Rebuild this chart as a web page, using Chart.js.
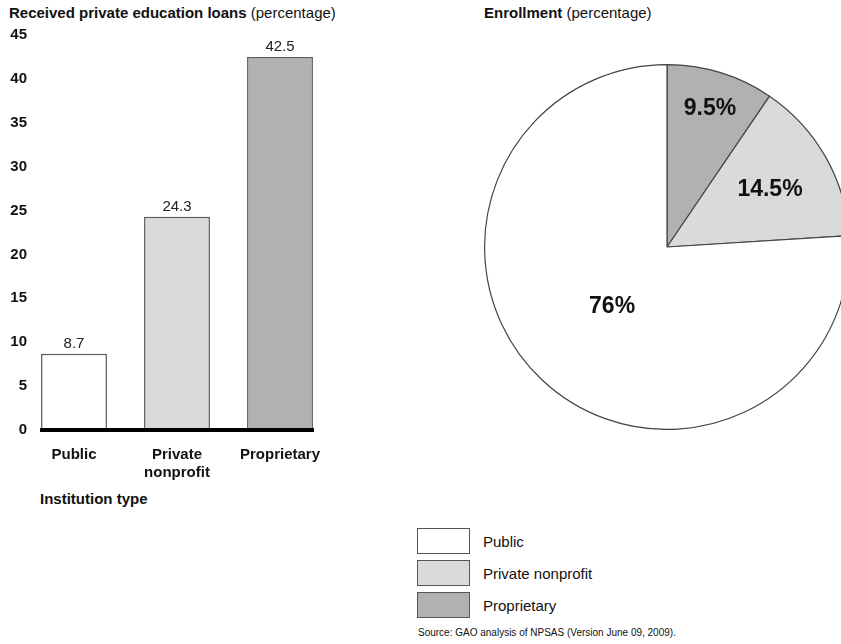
<!DOCTYPE html>
<html>
<head>
<meta charset="utf-8">
<script src="https://cdn.jsdelivr.net/npm/chart.js@4/dist/chart.umd.min.js"></script>
<style>
  html, body { margin: 0; padding: 0; background: #fff; }
  #page {
    position: relative; width: 841px; height: 644px; overflow: hidden;
    font-family: "Liberation Sans", Arial, Helvetica, sans-serif; color: #111;
  }
  .abs { position: absolute; white-space: nowrap; }
  .title { font-size: 15px; line-height: 18px; }
  .title b { font-weight: bold; }
  #barCanvas { position: absolute; left: 0; top: 0; }
  #pieCanvas { position: absolute; left: 484px; top: 64px; }
  #axisTitle { left: 40px; top: 490px; font-size: 15px; font-weight: bold; }
  .legRow { position: absolute; left: 417px; height: 27px; }
  .legBox { position: absolute; left: 0; top: 0; width: 51px; height: 24px; border: 1.5px solid #555; }
  .legText { position: absolute; left: 66px; top: 5px; font-size: 15px; line-height: 18px; white-space: nowrap; }
  #source { left: 418px; top: 627px; font-size: 10px; }
</style>
</head>
<body>
<div id="page">
  <div class="abs title" style="left:9px; top:4px;"><b>Received private education loans</b> (percentage)</div>
  <div class="abs title" style="left:484px; top:4px;"><b>Enrollment</b> (percentage)</div>
  <canvas id="barCanvas" width="340" height="482"></canvas>
  <div id="axisTitle" class="abs">Institution type</div>
  <canvas id="pieCanvas" width="366" height="366"></canvas>
  <div id="legend"></div>
  <div id="source" class="abs">Source: GAO analysis of NPSAS (Version June 09, 2009).</div>
</div>
<script>
// Institution types and their shares
const categories = ['Public', 'Private nonprofit', 'Proprietary'];
const axisLabels = [['Public'], ['Private', 'nonprofit'], ['Proprietary']];
const loanShare = [8.7, 24.3, 42.5];        // received private education loans, %
const enrollmentShare = [76, 14.5, 9.5];    // enrollment, %
const yTicks = [0, 5, 10, 15, 20, 25, 30, 35, 40, 45];

const fills = ['#ffffff', '#dadada', '#b1b1b1'];
const FONT = '"Liberation Sans", Arial, Helvetica, sans-serif';

// Value labels above each bar plus the heavy baseline under the bars
const barDecor = {
  id: 'barDecor',
  afterDatasetsDraw(chart) {
    const ctx = chart.ctx;
    const meta = chart.getDatasetMeta(0);
    const y0 = chart.scales.y.getPixelForValue(0);
    ctx.save();
    ctx.font = '15px ' + FONT;
    ctx.fillStyle = '#222';
    ctx.textAlign = 'center';
    ctx.textBaseline = 'middle';
    meta.data.forEach((bar, i) => {
      ctx.fillText(loanShare[i].toFixed(1), bar.x, bar.y - 10);
    });
    const first = meta.data[0], last = meta.data[meta.data.length - 1];
    ctx.strokeStyle = '#000';
    ctx.lineWidth = 4;
    ctx.beginPath();
    ctx.moveTo(first.x - first.width / 2 - 1, y0);
    ctx.lineTo(last.x + last.width / 2 + 1, y0);
    ctx.stroke();
    ctx.restore();
  }
};

new Chart(document.getElementById('barCanvas'), {
  type: 'bar',
  data: {
    labels: axisLabels,
    datasets: [{
      data: loanShare,
      backgroundColor: fills,
      borderColor: '#5a5a5a',
      borderWidth: 1.5,
      borderSkipped: 'start',
      categoryPercentage: 1,
      barPercentage: 0.64
    }]
  },
  options: {
    responsive: false,
    animation: false,
    devicePixelRatio: 1,
    layout: { padding: { left: 8, right: 8.5, top: 35, bottom: 0 } },
    plugins: { legend: { display: false }, tooltip: { enabled: false } },
    scales: {
      x: {
        grid: { display: false, drawTicks: false },
        border: { display: false },
        ticks: {
          padding: 16,
          color: '#111',
          font: { family: FONT, size: 15, weight: 'bold' },
          maxRotation: 0, autoSkip: false
        },
        afterFit(scale) { scale.height = 52; }
      },
      y: {
        min: 0, max: 45,
        afterBuildTicks(scale) { scale.ticks = yTicks.map(v => ({ value: v })); },
        grid: { display: false, drawTicks: false },
        border: { display: false },
        ticks: {
          // right-aligned numbers whose right edge sits just inside the plot
          mirror: true,
          crossAlign: 'far',
          padding: -12.2,
          color: '#111',
          font: { family: FONT, size: 15, weight: 'bold' }
        },
        afterFit(scale) { scale.width = 14.5; }
      }
    }
  },
  plugins: [barDecor]
});

// Pie drawn clockwise from 12 o'clock: Proprietary, Private nonprofit, Public
const pieOrder = [2, 1, 0];
const pieLabelRadius = [0.8, 0.65, 0.44];

const pieLabels = {
  id: 'pieLabels',
  afterDatasetsDraw(chart) {
    const ctx = chart.ctx;
    const meta = chart.getDatasetMeta(0);
    ctx.save();
    ctx.font = 'bold 23px ' + FONT;
    ctx.fillStyle = '#111';
    ctx.textAlign = 'center';
    ctx.textBaseline = 'middle';
    meta.data.forEach((arc, i) => {
      const mid = (arc.startAngle + arc.endAngle) / 2;
      const r = arc.outerRadius * pieLabelRadius[i];
      const v = chart.data.datasets[0].data[i];
      ctx.fillText(v + '%', arc.x + Math.cos(mid) * r, arc.y + Math.sin(mid) * r + 1);
    });
    ctx.restore();
  }
};

new Chart(document.getElementById('pieCanvas'), {
  type: 'pie',
  data: {
    labels: pieOrder.map(i => categories[i]),
    datasets: [{
      data: pieOrder.map(i => enrollmentShare[i]),
      backgroundColor: pieOrder.map(i => fills[i]),
      borderColor: '#444',
      borderWidth: 1.2
    }]
  },
  options: {
    responsive: false,
    animation: false,
    devicePixelRatio: 1,
    layout: { padding: 0 },
    plugins: { legend: { display: false }, tooltip: { enabled: false } }
  },
  plugins: [pieLabels]
});

// Legend
const legend = document.getElementById('legend');
categories.forEach((name, i) => {
  const row = document.createElement('div');
  row.className = 'legRow';
  row.style.top = (528 + i * 32) + 'px';
  const box = document.createElement('div');
  box.className = 'legBox';
  box.style.background = fills[i];
  const txt = document.createElement('div');
  txt.className = 'legText';
  txt.textContent = name;
  row.appendChild(box);
  row.appendChild(txt);
  legend.appendChild(row);
});
</script>
</body>
</html>
